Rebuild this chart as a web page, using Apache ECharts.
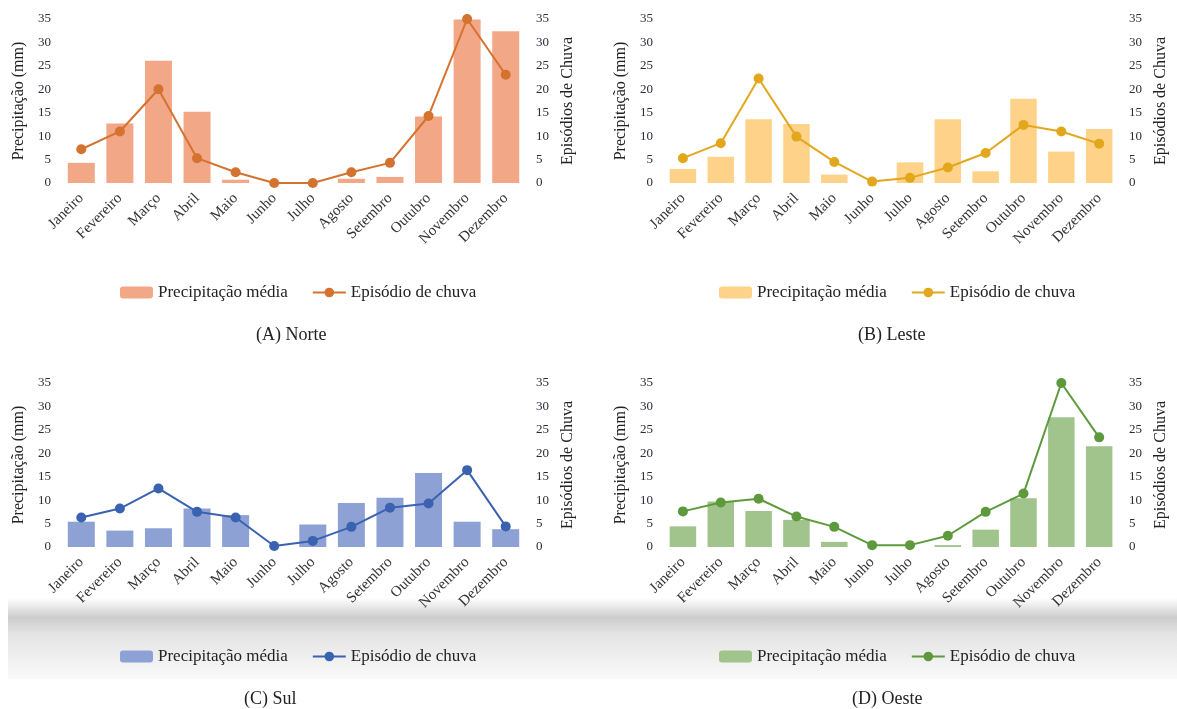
<!DOCTYPE html>
<html>
<head>
<meta charset="utf-8">
<script src="https://cdn.jsdelivr.net/npm/echarts@6/dist/echarts.min.js"></script>
<style>
  html, body { margin: 0; padding: 0; background: #ffffff; }
  #wrap { position: relative; width: 1177px; height: 709px; overflow: hidden; background: #fff; }
  .band { position: absolute; left: 8px; top: 598px; width: 1169px; height: 81px;
          background: linear-gradient(to bottom, rgba(255,255,255,1) 0%, rgba(205,205,205,1) 24%, rgba(228,228,228,1) 45%, rgba(242,242,242,1) 80%, rgba(250,250,250,1) 100%); }
  .panel { position: absolute; }
</style>
</head>
<body>
<div id="wrap">
  <div class="band"></div>
  <div id="pA" class="panel" style="left:0;top:0;width:589px;height:364px;"></div>
  <div id="pB" class="panel" style="left:590px;top:0;width:587px;height:364px;"></div>
  <div id="pC" class="panel" style="left:0;top:364px;width:589px;height:345px;"></div>
  <div id="pD" class="panel" style="left:590px;top:364px;width:587px;height:345px;"></div>
</div>
<script>
const months = ['Janeiro','Fevereiro','Março','Abril','Maio','Junho','Julho','Agosto','Setembro','Outubro','Novembro','Dezembro'];
const yTicks = [0, 5, 10, 15, 20, 25, 30, 35];

const precipNorte = [4.3, 12.7, 26.1, 15.2, 0.7, 0, 0, 0.9, 1.3, 14.2, 34.9, 32.4];
const chuvaNorte  = [7.2, 11.0, 20.0, 5.3, 2.3, 0, 0, 2.3, 4.3, 14.3, 35.0, 23.1];

const precipLeste = [3.0, 5.6, 13.6, 12.6, 1.8, 0, 4.4, 13.6, 2.5, 18.0, 6.7, 11.5];
const chuvaLeste  = [5.3, 8.5, 22.3, 9.9, 4.5, 0.3, 1.1, 3.3, 6.4, 12.4, 11.0, 8.4];

const precipSul = [5.4, 3.5, 4.0, 8.2, 6.8, 0, 4.8, 9.4, 10.5, 15.8, 5.4, 3.8];
const chuvaSul  = [6.3, 8.2, 12.5, 7.5, 6.3, 0.2, 1.3, 4.3, 8.4, 9.3, 16.4, 4.4];

const precipOeste = [4.4, 9.7, 7.7, 5.8, 1.1, 0, 0, 0.4, 3.7, 10.4, 27.7, 21.5];
const chuvaOeste  = [7.6, 9.5, 10.3, 6.5, 4.3, 0.4, 0.4, 2.4, 7.5, 11.4, 35.0, 23.4];

const barName = 'Precipitação média';
const lineName = 'Episódio de chuva';
const FONT = '"Liberation Serif", "DejaVu Serif", serif';

function makeOption(cfg) {
  const yBase = {
    type: 'value', min: yTicks[0], max: yTicks[yTicks.length - 1], interval: yTicks[1] - yTicks[0],
    splitLine: { show: false },
    axisLine: { show: false }, axisTick: { show: false },
    axisLabel: { fontFamily: FONT, fontSize: 13, color: '#2b2b3a', margin: 11 },
    nameLocation: 'middle', nameRotate: 90,
    nameTextStyle: { fontFamily: FONT, fontSize: 16, color: '#222' }
  };
  return {
    animation: false,
    textStyle: { fontFamily: FONT },
    grid: { left: cfg.gridLeft, width: cfg.gridWidth, top: 19, height: 164 },
    legend: {
      left: cfg.legendLeft, top: 279, itemWidth: 33, itemHeight: 12, itemGap: 24,
      textStyle: { fontFamily: FONT, fontSize: 17, color: '#222' },
      data: [barName, lineName]
    },
    xAxis: {
      type: 'category', data: months,
      axisLine: { show: false }, axisTick: { show: false },
      axisLabel: { interval: 0, rotate: 45, margin: 13, fontFamily: FONT, fontSize: 15, color: '#333' }
    },
    yAxis: [
      Object.assign({}, yBase, { position: 'left', name: 'Precipitação (mm)', nameGap: 28 }),
      Object.assign({}, yBase, { position: 'right', name: 'Episódios de Chuva', nameGap: 26 })
    ],
    graphic: [{
      type: 'text', left: cfg.titleX, top: 326,
      style: { text: cfg.title, font: '18px ' + FONT, fill: '#222' }
    }],
    series: [
      { name: barName, type: 'bar', data: cfg.bars, yAxisIndex: 0, barCategoryGap: '30%',
        itemStyle: { color: cfg.barColor } },
      { name: lineName, type: 'line', data: cfg.line, yAxisIndex: 1,
        symbol: 'circle', symbolSize: 10,
        lineStyle: { width: 2, color: cfg.lineColor },
        itemStyle: { color: cfg.lineColor } }
    ]
  };
}

const panels = [
  { id: 'pA', gridLeft: 62, gridWidth: 463, legendLeft: 115, titleX: 256, title: '(A) Norte',
    bars: precipNorte, line: chuvaNorte, barColor: '#F2A787', lineColor: '#D4722F' },
  { id: 'pB', gridLeft: 74, gridWidth: 461, legendLeft: 124, titleX: 268, title: '(B) Leste',
    bars: precipLeste, line: chuvaLeste, barColor: '#FED289', lineColor: '#E2A71C' },
  { id: 'pC', gridLeft: 62, gridWidth: 463, legendLeft: 115, titleX: 244, title: '(C) Sul',
    bars: precipSul, line: chuvaSul, barColor: '#8EA1D5', lineColor: '#3A62B0' },
  { id: 'pD', gridLeft: 74, gridWidth: 462, legendLeft: 124, titleX: 262, title: '(D) Oeste',
    bars: precipOeste, line: chuvaOeste, barColor: '#A0C48B', lineColor: '#5E9A3D' }
];

panels.forEach(function (p) {
  const chart = echarts.init(document.getElementById(p.id), null, { renderer: 'canvas' });
  chart.setOption(makeOption(p));
});
</script>
</body>
</html>
